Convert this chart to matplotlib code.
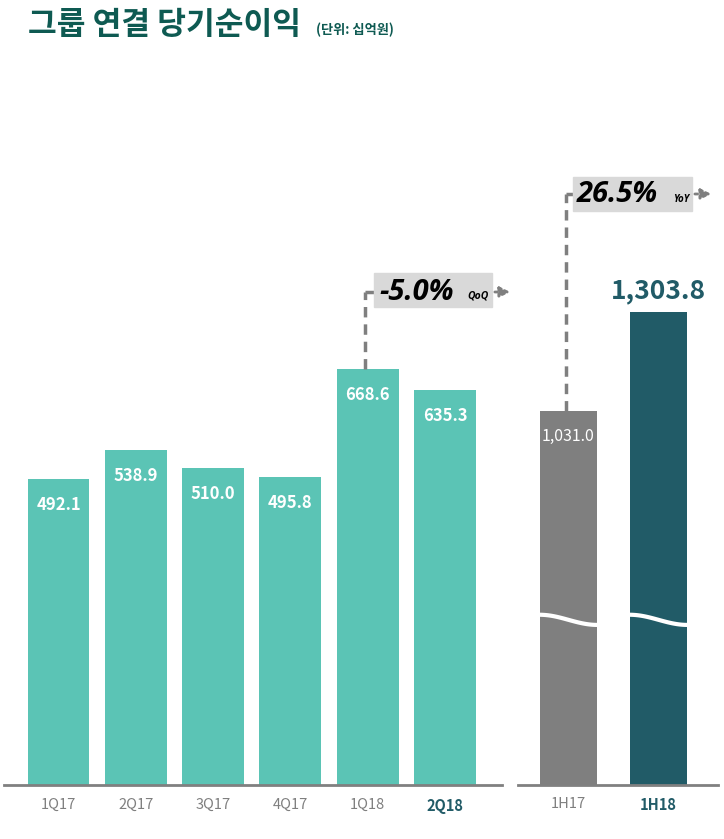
import numpy as np
import matplotlib
matplotlib.use('Agg')
import matplotlib.pyplot as plt
from matplotlib.patches import Rectangle

plt.rcParams['font.family'] = ['Noto Sans CJK KR', 'DejaVu Sans']

# data
quarters = ['1Q17', '2Q17', '3Q17', '4Q17', '1Q18', '2Q18']
q_values = [492.1, 538.9, 510.0, 495.8, 668.6, 635.3]
halves = ['1H17', '1H18']
h_values = [1031.0, 1303.8]
qoq_label = '-5.0%'
yoy_label = '26.5%'

teal = '#5BC4B5'
grey = '#7F7F7F'
dark = '#215B67'
title_col = '#0E5A52'
axis_col = '#808080'
ital = ['Open Sans', 'DejaVu Sans']

W, H = 724, 839
fig = plt.figure(figsize=(W / 100, H / 100), dpi=100)

base = (H - 785) / H
axL = fig.add_axes([4 / W, base, 498 / W, 1 - base])
axR = fig.add_axes([518 / W, base, 200 / W, 1 - base])

for ax in (axL, axR):
    for s in ['top', 'right', 'left']:
        ax.spines[s].set_visible(False)
    ax.spines['bottom'].set_color(axis_col)
    ax.spines['bottom'].set_linewidth(2)
    ax.set_yticks([])
    ax.tick_params(axis='x', length=0, pad=9)
    ax.patch.set_alpha(0)

# left panel
xq = np.arange(len(quarters))
axL.bar(xq, q_values, width=0.8, color=teal)
axL.set_xlim(-0.705, 5.737)
axL.set_ylim(0, 785 / 0.622)
axL.set_xticks(xq)
axL.set_xticklabels(quarters)
for i, lab in enumerate(axL.get_xticklabels()):
    last = i == len(quarters) - 1
    lab.set_color(dark if last else grey)
    lab.set_fontweight('bold' if last else 'normal')
    lab.set_fontsize(10.5)
for x, v in zip(xq, q_values):
    axL.text(x, v - 42, f'{v:.1f}', ha='center', va='center', color='white',
             fontsize=12, fontweight='bold')

# right panel
xh = np.arange(len(halves))
axR.bar(xh, h_values, width=0.63, color=[grey, dark])
axR.set_xlim(-0.56, 1.66)
axR.set_ylim(0, 785 / 0.363)
axR.set_xticks(xh)
axR.set_xticklabels(halves)
for i, lab in enumerate(axR.get_xticklabels()):
    last = i == len(halves) - 1
    lab.set_color(dark if last else grey)
    lab.set_fontweight('bold' if last else 'normal')
    lab.set_fontsize(10.5)
axR.text(xh[0], h_values[0] - 70, f'{h_values[0]:,.1f}', ha='center', va='center',
         color='white', fontsize=11.5)
axR.text(xh[1], h_values[1] + 20, f'{h_values[1]:,.1f}', ha='center', va='bottom',
         color=dark, fontsize=19, fontweight='bold')

# break waves
wx = np.linspace(-0.5, 0.5, 60)
wy = 455 - 14 * np.sin(np.pi * wx)
for x in xh:
    axR.plot(x + wx * 0.63 * 1.02, wy, color='white', lw=3, solid_capstyle='butt')

# QoQ annotation (left panel)
lvl = (785 - 292) / 0.622
axL.plot([4 - 0.03, 4 - 0.03], [q_values[4], lvl], color=grey, lw=2.5, ls=(0, (3, 2)))
axL.plot([4 - 0.03, 4.1], [lvl, lvl], color=grey, lw=2.5, ls=(0, (3, 2)))
bx0, bx1 = (374 - 58.5) / 77.3, (492 - 58.5) / 77.3
by0, by1 = (785 - 307) / 0.622, (785 - 273) / 0.622
axL.add_patch(Rectangle((bx0, by0), bx1 - bx0, by1 - by0, color='#D9D9D9', zorder=3))
axL.text(bx0 + 0.07, lvl, qoq_label, ha='left', va='center', fontsize=21,
         fontweight='bold', style='italic', color='black', zorder=4, family=ital)
axL.text(bx1 - 0.04, lvl - 7, 'QoQ', ha='right', va='center', fontsize=7.5,
         fontweight='bold', style='italic', color='black', zorder=4, family=ital)
axL.annotate('', xy=((513 - 58.5) / 77.3, lvl), xytext=(bx1, lvl),
             arrowprops=dict(arrowstyle='-|>,head_length=0.6,head_width=0.3',
                             color=grey, lw=2, ls=(0, (1, 1.2))),
             annotation_clip=False, zorder=2)

# YoY annotation (right panel)
lvl2 = (785 - 194) / 0.363
axR.plot([-0.03, -0.03], [h_values[0], lvl2], color=grey, lw=2.5, ls=(0, (3, 2)))
axR.plot([-0.03, 0.06], [lvl2, lvl2], color=grey, lw=2.5, ls=(0, (3, 2)))
cx0, cx1 = (573 - 568.5) / 90, (692 - 568.5) / 90
cy0, cy1 = (785 - 211) / 0.363, (785 - 177) / 0.363
axR.add_patch(Rectangle((cx0, cy0), cx1 - cx0, cy1 - cy0, color='#D9D9D9', zorder=3,
                        clip_on=False))
axR.text(cx0 + 0.04, lvl2, yoy_label, ha='left', va='center', fontsize=21,
         fontweight='bold', style='italic', color='black', zorder=4, family=ital)
axR.text(cx1 - 0.03, lvl2 - 14, 'YoY', ha='right', va='center', fontsize=7,
         fontweight='bold', style='italic', color='black', zorder=4, family=ital)
axR.annotate('', xy=((714 - 568.5) / 90, lvl2), xytext=(cx1, lvl2),
             arrowprops=dict(arrowstyle='-|>,head_length=0.6,head_width=0.3',
                             color=grey, lw=2, ls=(0, (1, 1.2))),
             annotation_clip=False, zorder=2)

# title
fig.text(28 / W, 1 - 25 / H, '그룹 연결 당기순이익', ha='left', va='center',
         fontsize=22.5, fontweight='bold', color=title_col)
fig.text(316 / W, 1 - 30 / H, '(단위: 십억원)', ha='left', va='center',
         fontsize=9.5, fontweight='bold', color=title_col)

fig.savefig('out.png', dpi=100)
